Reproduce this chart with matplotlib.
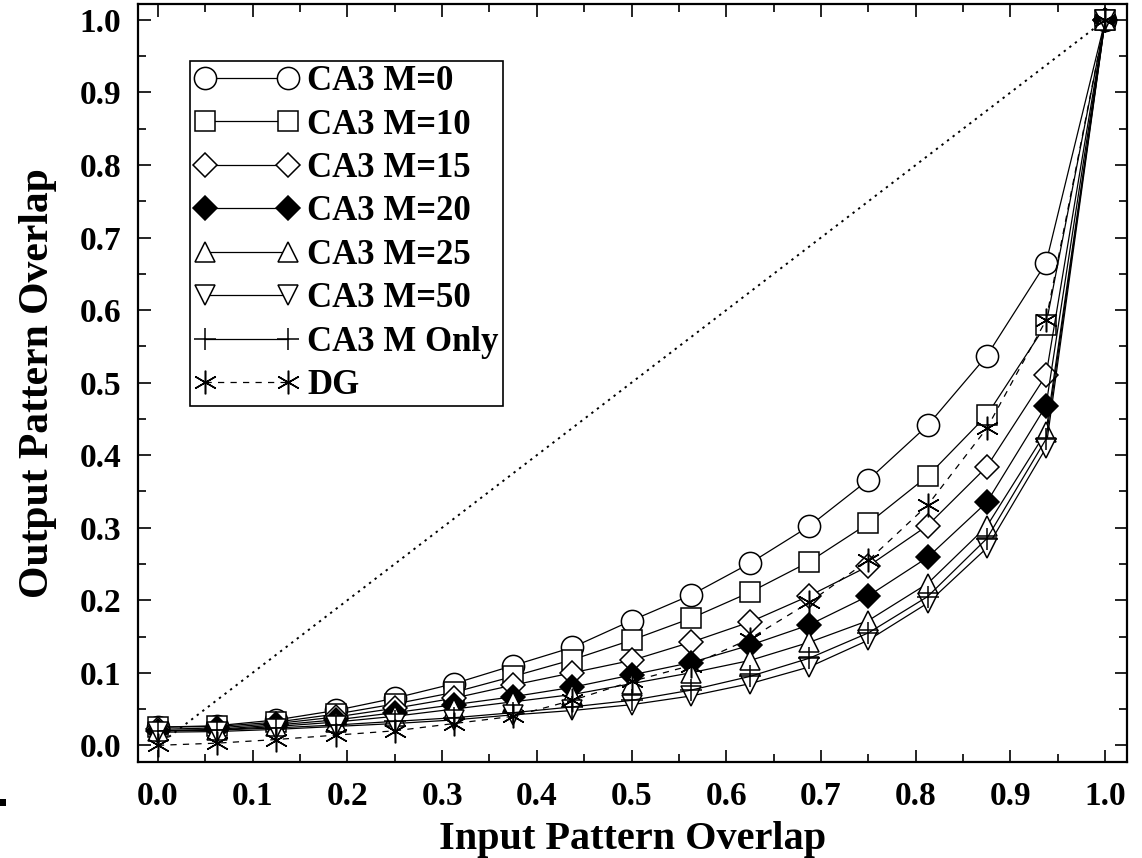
import matplotlib
matplotlib.use("Agg")
import matplotlib.pyplot as plt
from matplotlib.patches import Rectangle

plt.rcParams['font.family'] = ['Liberation Serif', 'DejaVu Serif']
plt.rcParams['font.weight'] = 'bold'

x = [k / 16 for k in range(17)]

ca3_m0 = [0.025, 0.027, 0.035, 0.048, 0.065, 0.085, 0.110, 0.135, 0.172, 0.207,
          0.251, 0.302, 0.366, 0.441, 0.537, 0.665, 1.0]
ca3_m10 = [0.025, 0.026, 0.032, 0.043, 0.057, 0.073, 0.095, 0.118, 0.145, 0.175,
           0.211, 0.253, 0.306, 0.371, 0.455, 0.580, 1.0]
ca3_m15 = [0.022, 0.024, 0.030, 0.039, 0.051, 0.065, 0.083, 0.100, 0.117, 0.142,
           0.170, 0.206, 0.247, 0.303, 0.384, 0.510, 1.0]
ca3_m20 = [0.020, 0.022, 0.028, 0.035, 0.045, 0.056, 0.067, 0.080, 0.097, 0.114,
           0.138, 0.166, 0.206, 0.259, 0.335, 0.468, 1.0]
ca3_m25 = [0.020, 0.021, 0.026, 0.032, 0.040, 0.050, 0.060, 0.070, 0.085, 0.100,
           0.117, 0.142, 0.172, 0.223, 0.302, 0.432, 1.0]
ca3_m50 = [0.018, 0.019, 0.022, 0.026, 0.030, 0.035, 0.042, 0.048, 0.056, 0.068,
           0.085, 0.108, 0.145, 0.196, 0.272, 0.410, 1.0]
ca3_monly = [0.020, 0.021, 0.024, 0.028, 0.033, 0.038, 0.045, 0.053, 0.062, 0.076,
             0.095, 0.120, 0.155, 0.205, 0.285, 0.422, 1.0]
dg = [0.000, 0.003, 0.008, 0.014, 0.020, 0.030, 0.040, 0.062, 0.088, 0.110,
      0.147, 0.197, 0.255, 0.331, 0.437, 0.586, 1.0]

labels = ["CA3 M=0", "CA3 M=10", "CA3 M=15", "CA3 M=20", "CA3 M=25",
          "CA3 M=50", "CA3 M Only", "DG"]

W, H = 1142, 858
fig = plt.figure(figsize=(W / 100, H / 100), dpi=100)
ax = fig.add_axes([138 / W, 1 - 762 / H, (1127 - 138) / W, (762 - 4) / H])

# identity line
ax.plot([0, 1], [0, 1], color='black', linestyle=(0, (1.2, 2.4)), lw=1.4, zorder=1)

lw = 0.9
common = dict(color='black', lw=lw, markeredgecolor='black', markeredgewidth=1.1)
ax.plot(x, ca3_m0, marker='o', ms=16, markerfacecolor='white', label=labels[0], zorder=3, **common)
ax.plot(x, ca3_m10, marker='s', ms=14, markerfacecolor='white', label=labels[1], zorder=4, **common)
ax.plot(x, ca3_m15, marker='D', ms=12, markerfacecolor='white', label=labels[2], zorder=5, **common)
ax.plot(x, ca3_m20, marker='D', ms=12, markerfacecolor='black', label=labels[3], zorder=6, **common)
ax.plot(x, ca3_m25, marker='^', ms=15, markerfacecolor='white', label=labels[4], zorder=7, **common)
ax.plot(x, ca3_m50, marker='v', ms=15, markerfacecolor='white', label=labels[5], zorder=8, **common)
ax.plot(x, ca3_monly, marker='+', ms=16, label=labels[6], zorder=9, **common)
ax.plot(x, dg, marker=(6, 2, 0), ms=17, linestyle=(0, (5, 5)), label=labels[7], zorder=10, **common)

ax.set_xlim(-0.021, 1.023)
ax.set_ylim(-0.023, 1.022)
ax.set_xticks([i / 10 for i in range(11)])
ax.set_yticks([i / 10 for i in range(11)])
ax.set_xticks([i / 20 for i in range(21)], minor=True)
ax.set_yticks([i / 20 for i in range(21)], minor=True)
ax.set_xticklabels([f"{i / 10:.1f}" for i in range(11)])
ax.set_yticklabels([f"{i / 10:.1f}" for i in range(11)])
ax.tick_params(which='both', direction='in', top=True, right=True, width=1.2)
ax.tick_params(which='major', length=9, labelsize=24, pad=12)
ax.tick_params(which='minor', length=6)
ax.tick_params(axis='x', which='major', pad=14)
for s in ax.spines.values():
    s.set_linewidth(1.6)

ax.set_xlabel("Input Pattern Overlap", fontsize=29, fontweight='bold', labelpad=6)
ax.set_ylabel("Output Pattern Overlap", fontsize=30, fontweight='bold', labelpad=16)

leg = ax.legend(loc='upper left', bbox_to_anchor=((190 - 138) / 989, (762 - 61) / 758),
                borderaxespad=0, numpoints=2, handlelength=3.0, handletextpad=0.25,
                labelspacing=0.3, borderpad=0.12, fontsize=25, fancybox=False,
                framealpha=1, edgecolor='black')
leg.get_frame().set_linewidth(1.2)
for t in leg.get_texts():
    t.set_fontweight('bold')

fig.patches.append(Rectangle((0, 1 - 806 / H), 6 / W, 7 / H, transform=fig.transFigure,
                             facecolor='black', edgecolor='none'))

fig.savefig("out.png", dpi=100)
